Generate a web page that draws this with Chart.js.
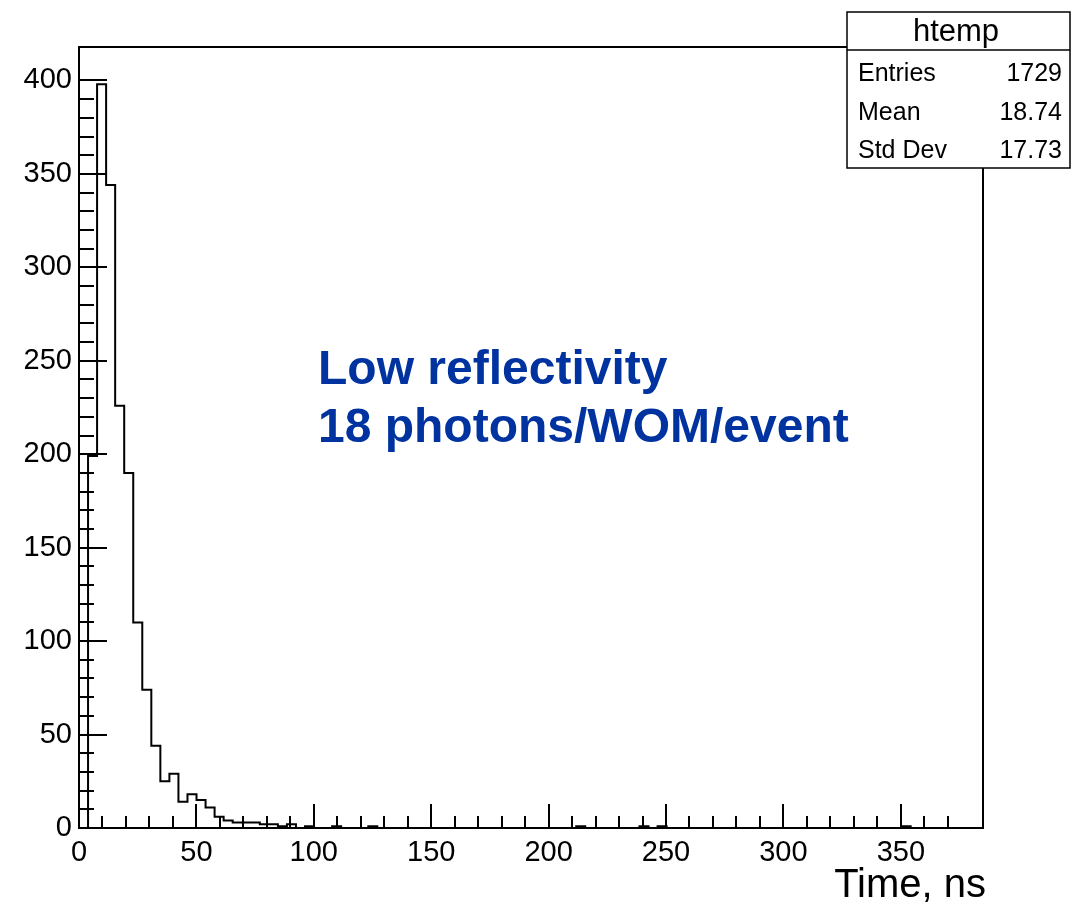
<!DOCTYPE html>
<html>
<head>
<meta charset="utf-8">
<script src="https://cdn.jsdelivr.net/npm/chart.js@4.4.0/dist/chart.umd.min.js"></script>
<style>
html,body{margin:0;padding:0;background:#fff;}
#wrap{width:1071px;height:906px;position:relative;}
</style>
</head>
<body>
<div id="wrap"><canvas id="c" width="1071" height="906"></canvas></div>
<script>
// ---- data ----
const binWidth = 3.85;          // ns per bin (100 bins over 0..385)
const xMin = 0, xMax = 385;
const yMin = 0, yMax = 417.9;
const counts = [
  0, 199, 398, 344, 226, 190, 110, 74, 44, 25,
  29, 14, 18, 15, 11, 6, 4, 3, 3, 3,
  2, 2, 1, 2, 0, 1, 0, 0, 1, 0,
  0, 0, 1, 0, 0, 0, 0, 0, 0, 0,
  0, 0, 0, 0, 0, 0, 0, 0, 0, 0,
  0, 0, 0, 0, 0, 1, 0, 0, 0, 0,
  0, 0, 1, 0, 1, 0, 0, 0, 0, 0,
  0, 0, 0, 0, 0, 0, 0, 0, 0, 0,
  0, 0, 0, 0, 0, 0, 0, 0, 0, 0,
  0, 1, 0, 0, 0, 0, 0, 0, 0, 0
];
const xMajorTicks = [0, 50, 100, 150, 200, 250, 300, 350];
const yMajorTicks = [0, 50, 100, 150, 200, 250, 300, 350, 400];
const xTitle = 'Time, ns';
const statsTitle = 'htemp';
const statsLabels = ['Entries', 'Mean', 'Std Dev'];
const statsValues = ['1729', '18.74', '17.73'];
const noteLines = ['Low reflectivity', '18 photons/WOM/event'];

// ---- build dataset (bin edges -> stepped outline) ----
const histPoints = counts.map((c, i) => ({ x: i * binWidth, y: c }));
histPoints.push({ x: counts.length * binWidth, y: 0 });

const FONT = "'Liberation Sans', Arial, Helvetica, sans-serif";

const rootDecor = {
  id: 'rootDecor',
  afterDatasetsDraw(chart) {
    const ctx = chart.ctx, a = chart.chartArea;
    const xs = chart.scales.x, ys = chart.scales.y;
    ctx.save();
    ctx.strokeStyle = '#000';
    ctx.lineWidth = 2;
    ctx.beginPath();
    xs.ticks.forEach(t => {
      const v = t.value;
      if (Math.abs(v / 10 - Math.round(v / 10)) > 1e-6) return;
      const px = Math.round(xs.getPixelForValue(v));
      const len = (Math.round(v) % 50 === 0) ? 24 : 12;
      ctx.moveTo(px, a.bottom);
      ctx.lineTo(px, a.bottom - len);
    });
    ys.ticks.forEach(t => {
      const v = t.value;
      if (Math.abs(v / 10 - Math.round(v / 10)) > 1e-6) return;
      const py = Math.round(ys.getPixelForValue(v));
      const len = (Math.round(v) % 50 === 0) ? 28 : 15;
      ctx.moveTo(a.left, py);
      ctx.lineTo(a.left + len, py);
    });
    ctx.stroke();
    ctx.strokeRect(a.left, a.top, a.right - a.left, a.bottom - a.top);
    ctx.restore();
  },
  afterDraw(chart) {
    const ctx = chart.ctx;
    ctx.save();
    // stats box
    const bx = 847, by = 12, bw = 223, bh = 156;
    ctx.fillStyle = '#fff';
    ctx.fillRect(bx, by, bw, bh);
    ctx.strokeStyle = '#000';
    ctx.lineWidth = 1.5;
    ctx.strokeRect(bx, by, bw, bh);
    ctx.beginPath();
    ctx.moveTo(bx, 50); ctx.lineTo(bx + bw, 50);
    ctx.stroke();
    ctx.fillStyle = '#000';
    ctx.textBaseline = 'alphabetic';
    ctx.font = '31px ' + FONT;
    ctx.textAlign = 'center';
    ctx.fillText(statsTitle, 956, 41);
    ctx.font = '25px ' + FONT;
    const rowsY = [81, 120, 158];
    statsLabels.forEach((l, i) => {
      ctx.textAlign = 'left';
      ctx.fillText(l, 858, rowsY[i]);
      ctx.textAlign = 'right';
      ctx.fillText(statsValues[i], 1062, rowsY[i]);
    });
    // axis title
    ctx.textAlign = 'right';
    ctx.font = '40px ' + FONT;
    ctx.fillText(xTitle, 986, 897);
    // annotation
    ctx.fillStyle = '#0033a0';
    ctx.textAlign = 'left';
    ctx.font = 'bold 48px ' + FONT;
    ctx.fillText(noteLines[0], 318, 384);
    ctx.fillText(noteLines[1], 318, 442);
    ctx.restore();
  }
};

new Chart(document.getElementById('c'), {
  type: 'line',
  data: {
    datasets: [{
      data: histPoints,
      stepped: 'before',
      borderColor: '#000',
      borderWidth: 2,
      pointRadius: 0,
      fill: false,
      tension: 0
    }]
  },
  options: {
    responsive: false,
    animation: false,
    devicePixelRatio: 1,
    layout: { padding: { top: 47, right: 88, left: 0, bottom: 0 } },
    plugins: { legend: { display: false }, tooltip: { enabled: false } },
    scales: {
      x: {
        type: 'linear',
        min: xMin, max: xMax,
        grid: { display: false, drawTicks: false },
        border: { display: false },
        afterFit: s => { s.height = 78; },
        ticks: {
          stepSize: 10, autoSkip: false, maxRotation: 0, padding: 8,
          color: '#000',
          font: { family: FONT, size: 29 },
          callback: v => xMajorTicks.includes(v) ? String(v) : ''
        }
      },
      y: {
        type: 'linear',
        min: yMin, max: yMax,
        grid: { display: false, drawTicks: false },
        border: { display: false },
        afterFit: s => { s.width = 79; },
        ticks: {
          stepSize: 10, autoSkip: false, padding: 7,
          color: '#000',
          font: { family: FONT, size: 29 },
          callback: v => yMajorTicks.includes(v) ? String(v) : ''
        }
      }
    }
  },
  plugins: [rootDecor]
});
</script>
</body>
</html>
